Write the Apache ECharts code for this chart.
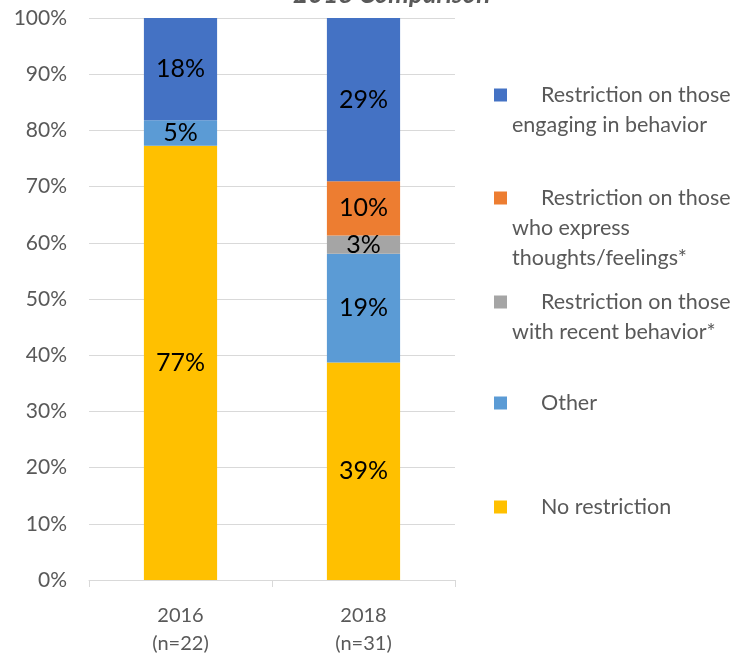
<!DOCTYPE html>
<html><head><meta charset="utf-8">
<script src="https://cdn.jsdelivr.net/npm/echarts@6/dist/echarts.min.js"></script>
<style>html,body{margin:0;padding:0;background:#fff}#c{width:753px;height:653px}</style>
</head><body><div id="c"></div>
<script>
const categories = ['2016\n(n=22)', '2018\n(n=31)'];
const noRestriction = [77.27, 38.71];
const other = [4.55, 19.35];
const recentBehavior = [null, 3.23];
const expressThoughts = [null, 9.68];
const engagingBehavior = [18.18, 29.03];
const yTicks = [0, 10, 20, 30, 40, 50, 60, 70, 80, 90, 100];

const FONT = 'Lato';
const names = {
  eng: 'Restriction on those engaging in behavior',
  exp: 'Restriction on those who express thoughts/feelings*',
  rec: 'Restriction on those with recent behavior*',
  oth: 'Other',
  no: 'No restriction'
};
const legendText = {};
legendText[names.eng] = '{ind| }\n{ind| }Restriction on those\nengaging in behavior';
legendText[names.exp] = '{ind| }\n{ind| }\n{ind| }Restriction on those\nwho express\nthoughts/feelings*';
legendText[names.rec] = '{ind| }\n{ind| }Restriction on those\nwith recent behavior*';
legendText[names.oth] = '{ind| }Other';
legendText[names.no] = '{ind| }No restriction';

function mkLegend(name, top) {
  return {
    data: [name], left: 494, top: top, padding: 0, orient: 'vertical',
    icon: 'rect', itemWidth: 13, itemHeight: 13, selectedMode: false,
    formatter: n => legendText[n],
    textStyle: { color: '#595959', fontSize: 21.5, fontFamily: FONT, lineHeight: 30,
      rich: { ind: { width: 29, fontSize: 21.5, lineHeight: 30, fontFamily: FONT } } }
  };
}

function mkSeries(name, data, color) {
  return {
    name: name, type: 'bar', stack: 'all', data: data, barWidth: '40%',
    itemStyle: { color: color },
    label: { show: true, position: 'inside', color: '#000', fontSize: 25, fontFamily: FONT,
      formatter: p => (p.value == null || p.value === 0) ? '' : Math.round(p.value) + '%' }
  };
}

const chart = echarts.init(document.getElementById('c'));
chart.setOption({
  animation: false,
  backgroundColor: '#fff',
  grid: { left: 89, right: 298, top: 18, bottom: 73, containLabel: false, outerBoundsMode: 'none' },
  graphic: [{
    type: 'text', z: 100,
    style: { x: 293, y: 8, text: '2018 Comparison', font: 'italic bold 26px ' + FONT, fill: '#595959', verticalAlign: 'bottom' }
  }],
  legend: [
    mkLegend(names.eng, 50),
    mkLegend(names.exp, 123),
    mkLegend(names.rec, 257),
    mkLegend(names.oth, 388),
    mkLegend(names.no, 492)
  ],
  xAxis: {
    type: 'category', data: categories,
    axisLine: { lineStyle: { color: '#D9D9D9', width: 1 } },
    axisTick: { show: true, length: 7, lineStyle: { color: '#D9D9D9' } },
    axisLabel: { color: '#595959', fontSize: 20, fontFamily: FONT, lineHeight: 28, margin: 22 }
  },
  yAxis: {
    type: 'value', min: yTicks[0], max: yTicks[yTicks.length - 1], interval: 10,
    axisLine: { show: false }, axisTick: { show: false },
    splitLine: { lineStyle: { color: '#D9D9D9', width: 1 } },
    axisLabel: { color: '#595959', fontSize: 21, fontFamily: FONT, margin: 22, formatter: v => v + '%' }
  },
  series: [
    mkSeries(names.no, noRestriction, '#FFC000'),
    mkSeries(names.oth, other, '#5B9BD5'),
    mkSeries(names.rec, recentBehavior, '#A5A5A5'),
    mkSeries(names.exp, expressThoughts, '#ED7D31'),
    mkSeries(names.eng, engagingBehavior, '#4472C4')
  ]
});
</script></body></html>
